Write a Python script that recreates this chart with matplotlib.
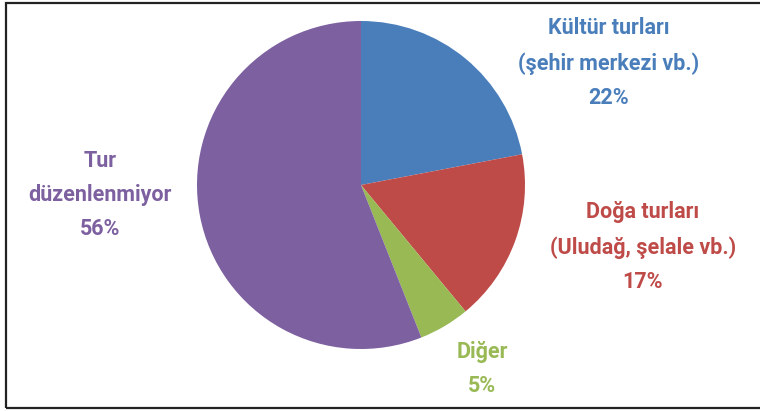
import matplotlib.pyplot as plt
from matplotlib.patches import Rectangle

# slices, clockwise from 12 o'clock
labels = ['Kültür turları\n(şehir merkezi vb.)', 'Doğa turları\n(Uludağ, şelale vb.)', 'Diğer', 'Tur\ndüzenlenmiyor']
values = [22, 17, 5, 56]
fillColors = ['#4A7EBB', '#BE4B48', '#98B954', '#7D60A0']
textColors = ['#4A7EBB', '#BE4B48', '#98B954', '#7D60A0']
# label centres in pixel coords (x, y from top)
labelPos = [(609, 63), (643, 247), (482, 369), (100, 195)]

W, H = 760, 411
fig = plt.figure(figsize=(W / 100, H / 100), dpi=100)
ax = fig.add_axes([0, 0, 1, 1])

ax.pie(values, colors=fillColors, startangle=90, counterclock=False,
       center=(361, H - 185), radius=164, frame=True,
       wedgeprops=dict(linewidth=0))
ax.set_xlim(0, W)
ax.set_ylim(0, H)
ax.set_aspect('equal')
ax.axis('off')

for lab, v, c, (x, y) in zip(labels, values, textColors, labelPos):
	ax.text(x, H - y, lab + '\n' + str(v) + '%', ha='center', va='center',
	        fontsize=15.5, fontweight='bold', color=c, family='Roboto',
	        linespacing=1.72)

# outer frame
fig.patches.append(Rectangle((6 / W, 3 / H), 1, (405 / H), transform=fig.transFigure,
                             fill=False, edgecolor='#222222', linewidth=1.6))

fig.savefig('out.png', dpi=100)
